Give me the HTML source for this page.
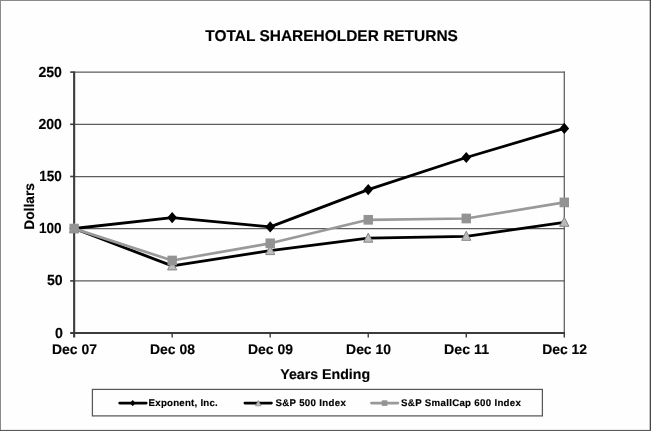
<!DOCTYPE html>
<html>
<head>
<meta charset="utf-8">
<title>Total Shareholder Returns</title>
<style>
html,body{margin:0;padding:0;background:#fff;}
body{width:651px;height:431px;overflow:hidden;}
svg{display:block;}
text{text-rendering:geometricPrecision;font-family:"Liberation Sans",sans-serif;font-weight:bold;fill:#000;stroke:#000;stroke-width:0.15px;}
</style>
</head>
<body>
<svg width="651" height="431" viewBox="0 0 651 431">
  <rect x="0" y="0" width="651" height="431" fill="#fefefe"/>
  <!-- outer frame -->
  <rect x="0" y="0" width="651" height="1" fill="#8a8a8a"/>
  <rect x="0" y="0" width="1" height="431" fill="#8a8a8a"/>
  <rect x="649.7" y="0" width="1.3" height="431" fill="#454545"/>
  <rect x="0" y="429.9" width="651" height="1.1" fill="#5a5a5a"/>

  <defs><filter id="soft" x="0" y="0" width="651" height="431" filterUnits="userSpaceOnUse"><feGaussianBlur stdDeviation="0.42"/></filter></defs>
  <g filter="url(#soft)">
  <!-- title -->
  <text x="331.6" y="41.2" font-size="15.6" text-anchor="middle" textLength="252.6" lengthAdjust="spacingAndGlyphs">TOTAL SHAREHOLDER RETURNS</text>

  <!-- gridlines -->
  <g stroke="#5c5c5c" stroke-width="1.25">
    <line x1="74.15" y1="72.1" x2="564.8" y2="72.1"/>
    <line x1="74.15" y1="124.3" x2="564.8" y2="124.3"/>
    <line x1="74.15" y1="176.5" x2="564.8" y2="176.5"/>
    <line x1="74.15" y1="228.6" x2="564.8" y2="228.6"/>
    <line x1="74.15" y1="280.9" x2="564.8" y2="280.9"/>
    <line x1="564.3" y1="71.6" x2="564.3" y2="333"/>
  </g>
  <!-- axes -->
  <g stroke="#3a3a3a">
    <line x1="74.15" y1="71.5" x2="74.15" y2="337.6" stroke-width="2.1"/>
    <line x1="70.2" y1="333" x2="564.8" y2="333" stroke-width="2.1"/>
    <line x1="70.2" y1="72.1" x2="74.15" y2="72.1" stroke-width="1.6"/>
    <line x1="70.2" y1="124.3" x2="74.15" y2="124.3" stroke-width="1.6"/>
    <line x1="70.2" y1="176.5" x2="74.15" y2="176.5" stroke-width="1.6"/>
    <line x1="70.2" y1="228.6" x2="74.15" y2="228.6" stroke-width="1.6"/>
    <line x1="70.2" y1="280.9" x2="74.15" y2="280.9" stroke-width="1.6"/>
    <line x1="172.18" y1="333" x2="172.18" y2="337.6" stroke-width="1.4"/>
    <line x1="270.21" y1="333" x2="270.21" y2="337.6" stroke-width="1.4"/>
    <line x1="368.24" y1="333" x2="368.24" y2="337.6" stroke-width="1.4"/>
    <line x1="466.27" y1="333" x2="466.27" y2="337.6" stroke-width="1.4"/>
    <line x1="564.3" y1="333" x2="564.3" y2="337.6" stroke-width="1.4"/>
  </g>
  <!-- y labels -->
  <g font-size="14.7" text-anchor="end" stroke="none">
    <text x="61.9" y="76.9" textLength="23.5" lengthAdjust="spacingAndGlyphs">250</text>
    <text x="61.9" y="129.1" textLength="23.5" lengthAdjust="spacingAndGlyphs">200</text>
    <text x="61.8" y="181.3" textLength="22.6" lengthAdjust="spacingAndGlyphs">150</text>
    <text x="61.6" y="233.4" textLength="22.6" lengthAdjust="spacingAndGlyphs">100</text>
    <text x="62.7" y="285.4" textLength="15.7" lengthAdjust="spacingAndGlyphs">50</text>
    <text x="62.9" y="337.5" textLength="7.9" lengthAdjust="spacingAndGlyphs">0</text>
  </g>
  <!-- x labels -->
  <g font-size="14" text-anchor="middle">
    <text x="74.45" y="353.7" textLength="44.9" lengthAdjust="spacingAndGlyphs">Dec 07</text>
    <text x="172.48" y="353.7" textLength="44.9" lengthAdjust="spacingAndGlyphs">Dec 08</text>
    <text x="270.51" y="353.7" textLength="44.9" lengthAdjust="spacingAndGlyphs">Dec 09</text>
    <text x="368.54" y="353.7" textLength="44.9" lengthAdjust="spacingAndGlyphs">Dec 10</text>
    <text x="466.57" y="353.7" textLength="44.9" lengthAdjust="spacingAndGlyphs">Dec 11</text>
    <text x="564.6" y="353.7" textLength="44.9" lengthAdjust="spacingAndGlyphs">Dec 12</text>
  </g>
  <text x="325.2" y="379" font-size="14.2" text-anchor="middle">Years Ending</text>
  <text transform="translate(34.3,206.4) rotate(-90)" font-size="14" text-anchor="middle" textLength="46.6" lengthAdjust="spacingAndGlyphs">Dollars</text>
  <!-- series lines -->
  <polyline fill="none" stroke="#000" stroke-width="2.8" stroke-linejoin="round" stroke-linecap="round" points="74.15,228.5 172.18,217.6 270.21,226.9 368.24,189.6 466.27,157.5 564.3,128.4"/>
  <polyline fill="none" stroke="#000" stroke-width="2.8" stroke-linejoin="round" stroke-linecap="round" points="74.15,228.5 172.18,265.9 270.21,250.6 368.24,238.2 466.27,236.3 564.3,222.3"/>
  <polyline fill="none" stroke="#999" stroke-width="2.7" stroke-linejoin="round" stroke-linecap="round" points="74.15,228.6 172.18,260.5 270.21,243.3 368.24,219.8 466.27,218.5 564.3,202.4"/>
  <!-- diamonds -->
  <g fill="#000">
    <path d="M74.15 222.9l4.8 5.6l-4.8 5.6l-4.8-5.6z"/>
    <path d="M172.18 212l4.8 5.6l-4.8 5.6l-4.8-5.6z"/>
    <path d="M270.21 221.3l4.8 5.6l-4.8 5.6l-4.8-5.6z"/>
    <path d="M368.24 184l4.8 5.6l-4.8 5.6l-4.8-5.6z"/>
    <path d="M466.27 151.9l4.8 5.6l-4.8 5.6l-4.8-5.6z"/>
    <path d="M564.3 122.8l4.8 5.6l-4.8 5.6l-4.8-5.6z"/>
  </g>
  <!-- triangles -->
  <g fill="#bcbcbc" stroke="#868686" stroke-width="1" stroke-linejoin="round">
    <path d="M74.15 223.4l4.6 9.1h-9.2z"/>
    <path d="M172.18 260.8l4.6 9.1h-9.2z"/>
    <path d="M270.21 245.5l4.6 9.1h-9.2z"/>
    <path d="M368.24 233.1l4.6 9.1h-9.2z"/>
    <path d="M466.27 231.2l4.6 9.1h-9.2z"/>
    <path d="M564.3 217.2l4.6 9.1h-9.2z"/>
  </g>
  <!-- squares -->
  <g fill="#939393">
    <rect x="69.45" y="223.75" width="9.4" height="9.7"/>
    <rect x="167.48" y="255.65" width="9.4" height="9.7"/>
    <rect x="265.51" y="238.45" width="9.4" height="9.7"/>
    <rect x="363.54" y="214.95" width="9.4" height="9.7"/>
    <rect x="461.57" y="213.65" width="9.4" height="9.7"/>
    <rect x="559.6" y="197.55" width="9.4" height="9.7"/>
  </g>
  <!-- legend -->
  <rect x="92.4" y="389.4" width="450" height="26.5" fill="#fefefe" stroke="#585858" stroke-width="1.25"/>
  <line x1="119.7" y1="403.1" x2="146.2" y2="403.1" stroke="#000" stroke-width="2.8" stroke-linecap="round"/>
  <path d="M132.7 399.9l2.8 3.2l-2.8 3.2l-2.8-3.2z" fill="#000"/>
  <text x="148.6" y="406.2" font-size="9.7" textLength="69.2" lengthAdjust="spacing">Exponent, Inc.</text>
  <line x1="244.9" y1="403.1" x2="271.4" y2="403.1" stroke="#000" stroke-width="2.8" stroke-linecap="round"/>
  <path d="M258.3 400.4l2.8 5.4h-5.6z" fill="#bcbcbc" stroke="#868686" stroke-width="0.7"/>
  <text x="275.5" y="406.3" font-size="9.7" textLength="70.3" lengthAdjust="spacing">S&amp;P 500 Index</text>
  <line x1="371.4" y1="403.1" x2="397.9" y2="403.1" stroke="#999" stroke-width="2.7" stroke-linecap="round"/>
  <rect x="381.8" y="400.3" width="5.6" height="5.6" fill="#939393"/>
  <text x="401.1" y="406.3" font-size="9.7" textLength="119.8" lengthAdjust="spacing">S&amp;P SmallCap 600 Index</text>
  </g>
</svg>
</body>
</html>
